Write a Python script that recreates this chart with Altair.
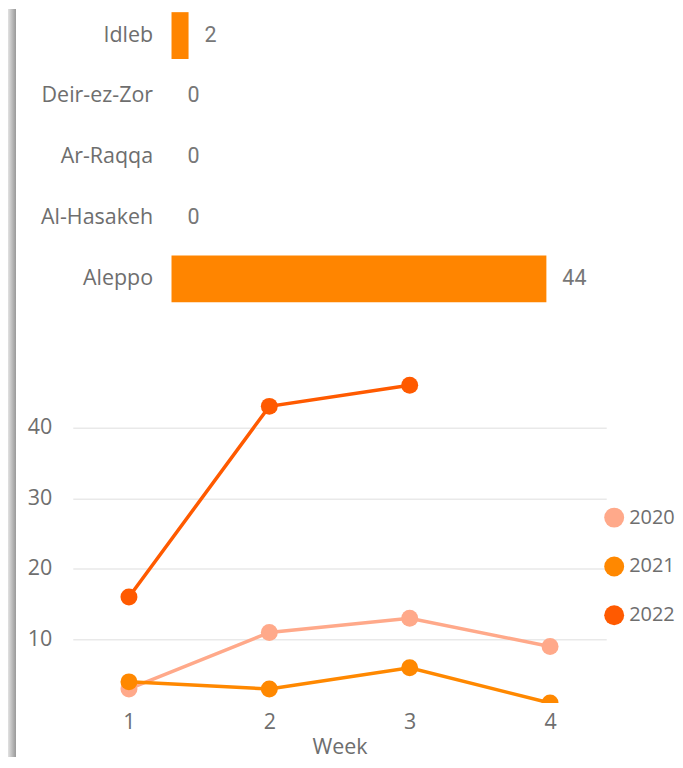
import altair as alt
import pandas as pd

# ---- data ----
regions = ["Idleb", "Deir-ez-Zor", "Ar-Raqqa", "Al-Hasakeh", "Aleppo"]
region_values = [2, 0, 0, 0, 44]

weeks = [1, 2, 3, 4]
years = ["2020", "2021", "2022"]
series = {
    "2020": [3, 11, 13, 9],
    "2021": [4, 3, 6, 1],
    "2022": [16, 43, 46, None],
}
year_colors = ["#FFA98A", "#FF8800", "#FF5A00"]
bar_color = "#FF8500"
text_gray = "#6E6E6E"
FS = 21.5

bar_df = pd.DataFrame({"region": regions, "value": region_values})
rows = []
for y in years:
    for w, v in zip(weeks, series[y]):
        if v is not None:
            rows.append({"week": w, "year": y, "value": v})
line_df = pd.DataFrame(rows)

shadow = alt.Gradient(
    gradient="linear", x1=0, x2=1, y1=0, y2=0,
    stops=[alt.GradientStop(offset=0, color="#e2e2e2"),
           alt.GradientStop(offset=0.85, color="#a3a3a3"),
           alt.GradientStop(offset=1, color="#9a9a9a")],
)

LINE_W, LINE_H = 535, 333
LINE_EXT = 65          # room left of both plot areas
BAR_OFFSET = 99        # bar baseline sits this far right of the shared plot origin
PX_PER_UNIT = 376 / 44
BAR_W, BAR_H = BAR_OFFSET + 376, 297
GAP = 66

# ---- top bar chart ----
ybar = alt.Y(
    "region:N", sort=regions, title=None,
    scale=alt.Scale(paddingInner=0.23, paddingOuter=0.05),
    axis=alt.Axis(ticks=False, domain=False, labelPadding=-(BAR_OFFSET - 19),
                  labelFontSize=FS, labelColor=text_gray, labelFont="Open Sans"),
)
xbar = alt.X("value:Q",
             scale=alt.Scale(domain=[-BAR_OFFSET / PX_PER_UNIT, 44], nice=False, zero=False),
             axis=None)

bars = alt.Chart(bar_df).mark_bar(color=bar_color).encode(
    x=xbar, x2=alt.datum(0), y=ybar)
bar_text = alt.Chart(bar_df).mark_text(
    align="left", baseline="middle", dx=16, fontSize=FS, font="Roboto", color="#777777"
).encode(x=xbar, y=ybar, text="value:Q")
bar_shadow = alt.Chart(bar_df).mark_rect(fill=shadow).encode(
    x=alt.value(-LINE_EXT), x2=alt.value(-LINE_EXT + 8),
    y=alt.value(0), y2=alt.value(BAR_H + GAP),
)
top = alt.layer(bar_shadow, bars, bar_text).properties(width=BAR_W, height=BAR_H)

# ---- bottom line chart ----
xline = alt.X(
    "week:O", title="Week",
    scale=alt.Scale(type="point", padding=0.4),
    axis=alt.Axis(labelAngle=0, ticks=False, domain=False, labelPadding=9,
                  labelFontSize=FS, labelColor=text_gray, labelFont="Open Sans",
                  titleFontSize=FS, titleColor=text_gray, titleFont="Open Sans",
                  titleFontWeight="normal", titlePadding=3),
)
yline = alt.Y(
    "value:Q", title=None,
    scale=alt.Scale(domain=[1, 48], nice=False, zero=False),
    axis=alt.Axis(values=[10, 20, 30, 40], ticks=False, domain=False, labelPadding=21,
                  labelFontSize=FS, labelColor=text_gray, labelFont="Open Sans",
                  gridColor="#E9E9E9", gridWidth=1.5, minExtent=LINE_EXT),
)
color_scale = alt.Scale(domain=years, range=year_colors)

lines = alt.Chart(line_df).mark_line(strokeWidth=3.5, clip=True).encode(
    x=xline, y=yline,
    color=alt.Color("year:N", scale=color_scale, legend=None),
)
points = alt.Chart(line_df).mark_circle(size=289, opacity=1, clip=True).encode(
    x=xline, y=yline,
    color=alt.Color(
        "year:N", scale=color_scale,
        legend=alt.Legend(title=None, orient="none", legendX=532, legendY=136,
                          symbolType="circle", symbolSize=400, symbolOpacity=1,
                          labelFontSize=20, labelColor=text_gray, labelFont="Open Sans",
                          labelOffset=4, rowPadding=28, padding=0),
    ),
)
line_shadow = alt.Chart(line_df).mark_rect(fill=shadow).encode(
    x=alt.value(-LINE_EXT), x2=alt.value(-LINE_EXT + 8),
    y=alt.value(0), y2=alt.value(LINE_H + 54),
)
bottom = (
    alt.layer(line_shadow, lines, points)
    .resolve_legend(color="independent")
    .properties(width=LINE_W, height=LINE_H)
)

chart = alt.vconcat(top, bottom, spacing=0).properties(
    padding=0
).configure_view(stroke=None)

chart.save("out.html", embed_options={"renderer": "svg", "actions": False})
